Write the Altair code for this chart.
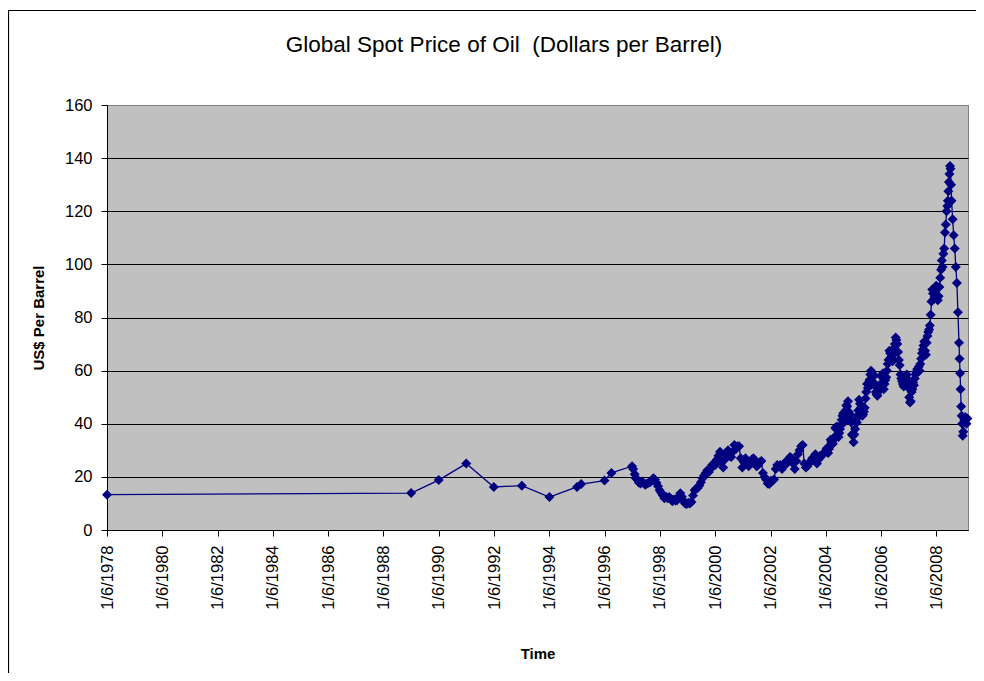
import altair as alt
import pandas as pd

# ---- data ----
dates = [
    "1978-01-06", "1989-01-06", "1990-01-05", "1991-01-04", "1992-01-03", "1993-01-08",
    "1994-01-07", "1995-01-06", "1995-03-03", "1996-01-05", "1996-04-05",
    "1997-01-03", "1997-01-17", "1997-02-07", "1997-02-21", "1997-03-14", "1997-04-04",
    "1997-04-25", "1997-05-16", "1997-06-06", "1997-06-27", "1997-07-18", "1997-08-08",
    "1997-08-29", "1997-09-19", "1997-10-10", "1997-10-31", "1997-11-21", "1997-12-12",
    "1998-01-02", "1998-01-23", "1998-02-13", "1998-03-06", "1998-03-27", "1998-04-17",
    "1998-05-08", "1998-05-29", "1998-06-19", "1998-07-10", "1998-07-31", "1998-08-21",
    "1998-09-11", "1998-10-02", "1998-10-23", "1998-11-13", "1998-12-04", "1998-12-25",
    "1999-01-15", "1999-02-05", "1999-02-26", "1999-03-19", "1999-04-09", "1999-04-30",
    "1999-05-21", "1999-06-11", "1999-07-02", "1999-07-23", "1999-08-13", "1999-09-03",
    "1999-09-24", "1999-10-15", "1999-11-05", "1999-11-26", "1999-12-17",
    "2000-01-07", "2000-01-28", "2000-02-18", "2000-03-10", "2000-03-31", "2000-04-21",
    "2000-05-12", "2000-06-02", "2000-06-23", "2000-07-14", "2000-08-04", "2000-08-25",
    "2000-09-15", "2000-10-06", "2000-10-27", "2000-11-17", "2000-12-08", "2000-12-29",
    "2001-01-19", "2001-02-09", "2001-03-02", "2001-03-23", "2001-04-13", "2001-05-04",
    "2001-05-25", "2001-06-15", "2001-07-06", "2001-07-27", "2001-08-17", "2001-09-07",
    "2001-09-28", "2001-10-19", "2001-11-09", "2001-11-30", "2001-12-21",
    "2002-01-11", "2002-02-01", "2002-02-22", "2002-03-15", "2002-04-05", "2002-04-26",
    "2002-05-17", "2002-06-07", "2002-06-28", "2002-07-19", "2002-08-09", "2002-08-30",
    "2002-09-20", "2002-10-11", "2002-11-01", "2002-11-22", "2002-12-13",
    "2003-01-03", "2003-01-24", "2003-02-14", "2003-03-07", "2003-03-28", "2003-04-18",
    "2003-05-09", "2003-05-30", "2003-06-20", "2003-07-11", "2003-08-01", "2003-08-22",
    "2003-09-12", "2003-10-03", "2003-10-24", "2003-11-14", "2003-12-05", "2003-12-26",
    "2004-01-16", "2004-02-06", "2004-02-27", "2004-03-19", "2004-04-09", "2004-04-30",
    "2004-05-21", "2004-06-11", "2004-07-02", "2004-07-23", "2004-08-13", "2004-09-03",
    "2004-09-24", "2004-10-15", "2004-11-05", "2004-11-26", "2004-12-17",
    "2005-01-07", "2005-01-28", "2005-02-18", "2005-03-11", "2005-04-01", "2005-04-22",
    "2005-05-13", "2005-06-03", "2005-06-24", "2005-07-15", "2005-08-05", "2005-08-26",
    "2005-09-16", "2005-10-07", "2005-10-28", "2005-11-18", "2005-12-09", "2005-12-30",
    "2006-01-20", "2006-02-10", "2006-03-03", "2006-03-24", "2006-04-14", "2006-05-05",
    "2006-05-26", "2006-06-16", "2006-07-07", "2006-07-28", "2006-08-18", "2006-09-08",
    "2006-09-29", "2006-10-20", "2006-11-10", "2006-12-01", "2006-12-22",
    "2007-01-12", "2007-02-02", "2007-02-23", "2007-03-16", "2007-04-06", "2007-04-27",
    "2007-05-18", "2007-06-08", "2007-06-29", "2007-07-20", "2007-08-10", "2007-08-31",
    "2007-09-21", "2007-10-12", "2007-11-02", "2007-11-23", "2007-12-14",
    "2008-01-04", "2008-01-25", "2008-02-15", "2008-03-07", "2008-03-28", "2008-04-18",
    "2008-05-09", "2008-05-30", "2008-06-13", "2008-06-27", "2008-07-04", "2008-07-11",
    "2008-07-18", "2008-07-25", "2008-08-08", "2008-08-22", "2008-09-05", "2008-09-19",
    "2008-10-03", "2008-10-17", "2008-10-31", "2008-11-07", "2008-11-14", "2008-11-21",
    "2008-11-28", "2008-12-05", "2008-12-12", "2008-12-19", "2008-12-26",
    "2009-01-09", "2009-01-23", "2009-02-06", "2009-02-20",
]

prices = [
    13.3, 13.9, 18.8, 25.0, 16.2, 16.7,
    12.4, 16.2, 17.3, 18.6, 21.5,
    24.0, 23.0, 21.0, 19.5, 19.0, 17.8,
    17.5, 18.3, 17.6, 17.0, 17.5, 17.8,
    18.0, 18.5, 19.5, 19.0, 17.8, 16.5,
    15.0, 14.0, 13.0, 12.0, 12.5, 12.0,
    12.4, 11.8, 10.8, 11.5, 11.0, 11.2,
    12.6, 13.8, 12.5, 11.0, 10.0, 9.8,
    10.3, 10.0, 10.5, 13.0, 15.0, 15.6,
    15.8, 16.8, 18.0, 19.5, 20.5, 21.5,
    22.5, 21.8, 23.0, 24.5, 25.0,
    24.5, 26.5, 28.0, 29.5, 25.5, 23.5,
    26.5, 28.5, 30.0, 28.0, 27.5, 29.5,
    32.0, 30.5, 31.5, 31.5, 27.0, 23.5,
    25.5, 27.0, 26.0, 24.0, 25.0, 26.5,
    27.0, 26.0, 24.0, 24.5, 25.5, 26.0,
    21.5, 20.0, 19.0, 17.5, 17.3,
    18.5, 18.5, 19.0, 23.0, 24.5, 24.0,
    24.5, 23.0, 24.5, 25.5, 25.0, 26.5,
    27.5, 27.0, 25.0, 23.0, 26.0,
    28.5, 30.0, 31.5, 32.0, 25.0, 23.5,
    24.0, 25.0, 26.0, 27.0, 27.5, 28.5,
    25.0, 26.5, 28.0, 28.0, 28.5, 29.5,
    30.5, 29.0, 31.5, 33.0, 32.5, 35.0,
    38.0, 36.0, 36.5, 39.5, 43.0, 40.5,
    45.0, 46.5, 44.5, 43.5, 36.0,
    33.0, 38.0, 40.5, 45.0, 47.5, 45.0,
    43.5, 46.0, 52.0, 53.5, 56.5, 60.0,
    57.5, 54.5, 52.0, 50.5, 52.5, 55.0,
    57.5, 53.0, 56.5, 60.0, 64.0, 66.5,
    64.5, 66.0, 70.0, 71.5, 67.0, 62.0,
    57.0, 55.0, 55.5, 57.5, 56.0,
    50.0, 48.5, 53.0, 54.5, 58.5, 60.5,
    61.5, 62.5, 66.5, 69.5, 67.5, 70.5,
    74.5, 77.0, 86.0, 89.0, 88.0,
    92.0, 86.5, 91.5, 98.0, 99.0, 106.0,
    115.0, 122.0, 127.5, 134.0, 137.0, 136.0,
    130.0, 124.0, 117.0, 111.0, 106.0, 99.0,
    93.0, 82.0, 70.5, 64.5, 59.0, 53.0,
    46.5, 43.0, 40.0, 35.5, 37.0,
    41.5, 42.5, 40.0, 42.0,
]

# further weekly readings in the dense 2004-2008 stretch
dates_extra = [
    "2004-01-27", "2004-02-17", "2004-03-09", "2004-03-30", "2004-04-20", "2004-05-11",
    "2004-06-01", "2004-06-22", "2004-07-13", "2004-08-03", "2004-08-24", "2004-09-14",
    "2004-10-05", "2004-10-26", "2004-11-16", "2004-12-07", "2004-12-28",
    "2005-01-18", "2005-02-08", "2005-03-01", "2005-03-22", "2005-04-12", "2005-05-03",
    "2005-05-24", "2005-06-14", "2005-07-05", "2005-07-26", "2005-08-16", "2005-09-06",
    "2005-09-27", "2005-10-18", "2005-11-08", "2005-11-29", "2005-12-20",
    "2006-01-10", "2006-01-31", "2006-02-21", "2006-03-14", "2006-04-04", "2006-04-25",
    "2006-05-16", "2006-06-06", "2006-06-27", "2006-07-18", "2006-08-08", "2006-08-29",
    "2006-09-19", "2006-10-10", "2006-10-31", "2006-11-21", "2006-12-12",
    "2007-01-02", "2007-01-23", "2007-02-13", "2007-03-06", "2007-03-27", "2007-04-17",
    "2007-05-08", "2007-05-29", "2007-06-19", "2007-07-10", "2007-07-31", "2007-08-21",
    "2007-09-11", "2007-10-02", "2007-10-23", "2007-11-13", "2007-12-04", "2007-12-25",
    "2008-01-15", "2008-02-05", "2008-02-26", "2008-03-18", "2008-04-08", "2008-04-29",
    "2008-05-20", "2008-06-06", "2008-06-20",
]
prices_extra = [
    31.0, 30.5, 34.0, 33.5, 34.0, 38.5,
    39.0, 35.0, 38.0, 41.5, 44.0, 43.0,
    47.0, 48.5, 42.0, 40.5, 35.5,
    36.0, 41.5, 43.0, 49.0, 46.0, 43.0,
    44.5, 49.5, 55.0, 55.5, 58.5, 59.0,
    58.5, 55.0, 51.0, 52.0, 54.0,
    58.0, 59.0, 55.0, 57.5, 62.5, 67.5,
    65.0, 63.5, 68.5, 72.5, 70.0, 64.0,
    58.5, 56.0, 54.0, 56.5, 58.5,
    53.5, 48.0, 52.0, 55.5, 57.0, 59.5,
    60.0, 60.0, 64.5, 68.0, 71.0, 66.0,
    73.0, 75.5, 81.0, 90.5, 87.0, 90.0,
    88.0, 88.0, 95.0, 101.5, 104.0, 112.0,
    120.0, 124.0, 131.0,
]

y_ticks = [0, 20, 40, 60, 80, 100, 120, 140, 160]
x_tick_years = list(range(1978, 2009, 2))
chart_title = "Global Spot Price of Oil \u00a0(Dollars per Barrel)"

df = pd.DataFrame({"date": dates + dates_extra, "price": prices + prices_extra})
df = df.sort_values("date").reset_index(drop=True)
df["order"] = range(len(df))

FONT = "Liberation Sans"
NAVY = "#000080"

# layout (pixels)
PL, PT, PR, PB = 99, 97, 8, 143
W, H = 861, 425

x_scale = alt.Scale(
    type="utc",
    domain=[alt.DateTime(year=1978, month=1, date=6, utc=True),
            alt.DateTime(year=2009, month=2, date=27, utc=True)],
    nice=False,
)

x_axis = alt.Axis(
    values=[alt.DateTime(year=y, month=1, date=6, utc=True) for y in x_tick_years],
    format="%-m/%-d/%Y",
    labelAngle=270,
    labelPadding=9,
    tickSize=6,
    grid=False,
    title="Time",
    titleY=128,
    titleBaseline="alphabetic",
)

y_axis = alt.Axis(
    values=y_ticks,
    labelPadding=9,
    tickSize=6,
    grid=True,
    gridColor=alt.condition("datum.value == 160", alt.value("#808080"), alt.value("#000000")),
    title="US$ Per Barrel",
    titleX=-64,
    titleBaseline="alphabetic",
)

base = alt.Chart(df).encode(
    x=alt.X("date:T", scale=x_scale, axis=x_axis),
    y=alt.Y("price:Q", scale=alt.Scale(domain=[0, 160], nice=False), axis=y_axis),
)

line = base.mark_line(color=NAVY, strokeWidth=1.3).encode(order="order:Q")
points = base.mark_point(shape="diamond", filled=True, size=100, color=NAVY, opacity=1)

one = pd.DataFrame({"k": [0]})
border_top = alt.Chart(one).mark_rule(color="black", strokeWidth=1.2).encode(
    x=alt.value(-PL), x2=alt.value(W + PR), y=alt.value(-PT + 2.5)
)
border_left = alt.Chart(one).mark_rule(color="black", strokeWidth=1.2).encode(
    x=alt.value(-PL + 0.5), y=alt.value(-PT + 2.5), y2=alt.value(H + PB)
)
title_text = alt.Chart(one).mark_text(
    text=chart_title, font=FONT, fontSize=22.5, color="black",
    align="center", baseline="alphabetic",
).encode(x=alt.value(397), y=alt.value(-53))

chart = alt.layer(border_top, border_left, title_text, line, points).properties(
    width=W,
    height=H,
    autosize=alt.AutoSizeParams(type="none"),
    padding={"left": PL, "top": PT, "right": PR, "bottom": PB},
).configure(
    background="white",
).configure_view(
    fill="#C0C0C0", stroke="#808080", strokeWidth=1,
).configure_axis(
    domainColor="black", tickColor="black", labelColor="black", titleColor="black",
    labelFont=FONT, labelFontSize=16.5, titleFont=FONT, titleFontSize=15,
    titleFontWeight="bold", domainWidth=1, tickWidth=1, gridWidth=1,
)

chart.save("out.html", embed_options={"renderer": "svg", "actions": False})
